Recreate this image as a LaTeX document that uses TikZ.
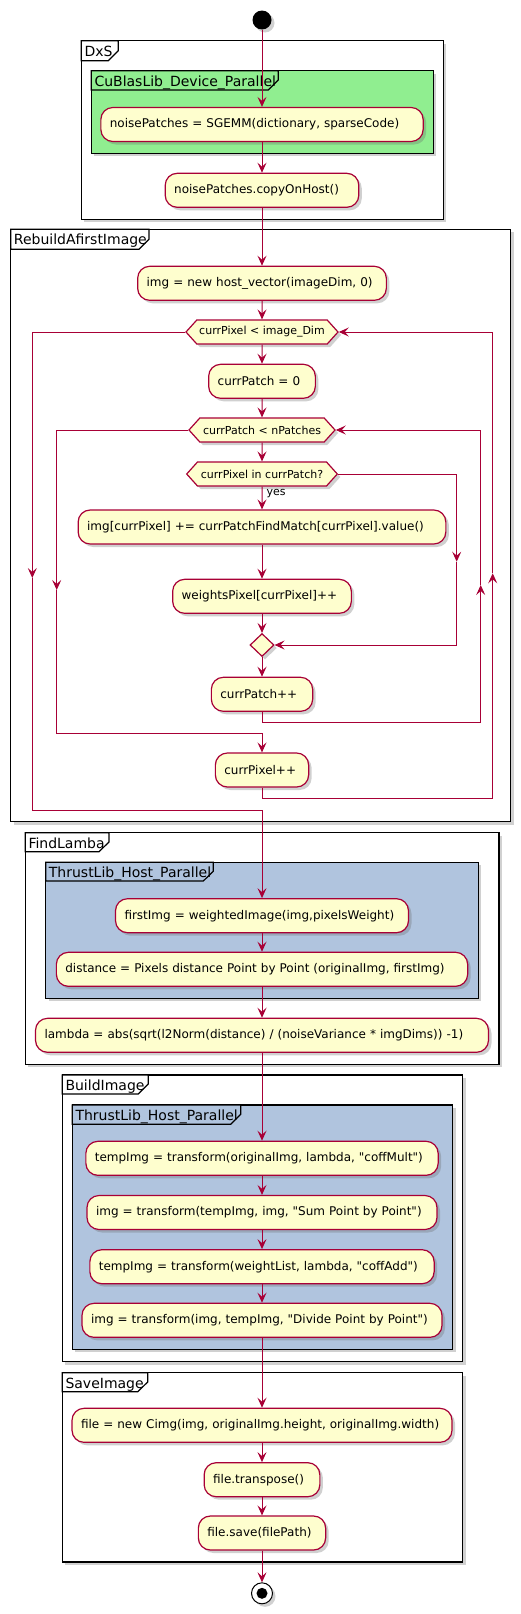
\documentclass[tikz,border=0pt]{standalone}
\usepackage{fontspec}
\setmainfont{DejaVu Sans}
\usetikzlibrary{arrows.meta,shapes.geometric,shapes.symbols,shadows}
\definecolor{umlred}{HTML}{A80036}
\definecolor{umlfill}{HTML}{FEFECE}
\definecolor{cublas}{HTML}{90EE90}
\definecolor{thrust}{HTML}{B0C4DE}
\begin{document}
\begin{tikzpicture}[x=1pt, y=-1pt,
    shadowed/.style={drop shadow={shadow xshift=3pt, shadow yshift=-3pt, opacity=0.3, fill=black!60}},
    actbox/.style={shape=rectangle, rounded corners=12pt, draw=umlred, fill=umlfill, line width=1.2pt, shadowed,
      minimum height=34pt, inner xsep=9pt, inner ysep=0pt, text width=#1, align=left, font=\fontsize{12}{14}\selectfont},
    testbox/.style={shape=signal, signal to=west and east, signal pointer angle=96, draw=umlred, fill=umlfill,
      line width=1.2pt, shadowed, minimum width=#1, minimum height=24pt, inner xsep=0pt, inner ysep=0pt,
      font=\fontsize{11}{13}\selectfont},
    mergebox/.style={shape=diamond, draw=umlred, fill=umlfill, line width=1.2pt, shadowed,
      minimum width=24pt, minimum height=23pt, inner sep=0pt},
    startdot/.style={shape=circle, fill=black, minimum size=19pt, inner sep=0pt, shadowed},
    stopdot/.style={shape=circle, draw=black, fill=white, line width=1pt, minimum size=21pt, inner sep=0pt, shadowed,
      path picture={\fill[black] (path picture bounding box.center) circle (5.5pt);}},
    grpbox/.style={draw=black, line width=1.5pt, fill=#1, shadowed},
    grptab/.style={draw=black, line width=1.2pt, fill=#1},
    grptitle/.style={anchor=base west, inner sep=0pt, font=\fontsize{14}{16}\selectfont},
    yeslabel/.style={anchor=west, inner sep=2pt, xshift=2pt, font=\fontsize{11}{13}\selectfont},
    flow/.style={draw=umlred, line width=1pt, -{Stealth[length=10pt, width=9pt, inset=4pt]}}]
  \useasboundingbox (0,0) rectangle (520,1614);

  \draw[grpbox=white] (81.3,40.7) rectangle (443.3,219.3);
  \draw[grptab=white] (81.3,40.7) -- (118.3,40.7) -- (118.3,50.7) -- (108.3,60.7) -- (81.3,60.7) -- cycle;
  \node[grptitle] (dxs) at (84.3,56) {DxS};
  \draw[grpbox=cublas] (91.3,70.7) rectangle (433.3,153.3);
  \draw[grptab=cublas] (91.3,70.7) -- (278.3,70.7) -- (278.3,80) -- (268.3,90) -- (91.3,90) -- cycle;
  \node[grptitle] (cublaslib) at (94.3,86) {CuBlasLib\_Device\_Parallel};

  \draw[grpbox=white] (10.7,229.3) rectangle (510.7,821.7);
  \draw[grptab=white] (10.7,229.3) -- (149,229.3) -- (149,239.3) -- (139,249.3) -- (10.7,249.3) -- cycle;
  \node[grptitle] (rebuild) at (13.7,244.6) {RebuildAfirstImage};

  \draw[grpbox=white] (25.3,832.7) rectangle (499,1064.3);
  \draw[grptab=white] (25.3,832.7) -- (109,832.7) -- (109,842) -- (99,851.7) -- (25.3,851.7) -- cycle;
  \node[grptitle] (findlamba) at (28.3,848) {FindLamba};
  \draw[grpbox=thrust] (45.7,862.3) rectangle (478.3,998.3);
  \draw[grptab=thrust] (45.7,862.3) -- (213.3,862.3) -- (213.3,871.3) -- (203.3,881) -- (45.7,881) -- cycle;
  \node[grptitle] (thrustA) at (48.7,877.6) {ThrustLib\_Host\_Parallel};

  \draw[grpbox=white] (62.3,1075) rectangle (462.7,1361.7);
  \draw[grptab=white] (62.3,1075) -- (148.3,1075) -- (148.3,1084) -- (138.3,1094) -- (62.3,1094) -- cycle;
  \node[grptitle] (buildimage) at (65.3,1090.3) {BuildImage};
  \draw[grpbox=thrust] (72.3,1105) rectangle (452.7,1349.3);
  \draw[grptab=thrust] (72.3,1105) -- (240.7,1105) -- (240.7,1114.3) -- (230.7,1124.3) -- (72.3,1124.3) -- cycle;
  \node[grptitle] (thrustB) at (75.3,1120.3) {ThrustLib\_Host\_Parallel};

  \draw[grpbox=white] (62.3,1372.7) rectangle (462.7,1562);
  \draw[grptab=white] (62.3,1372.7) -- (147.7,1372.7) -- (147.7,1382) -- (137.7,1391.7) -- (62.3,1391.7) -- cycle;
  \node[grptitle] (saveimage) at (65.3,1388) {SaveImage};

  \path
    (262,20) node[startdot] (start) {}
    (262,124.5) node[actbox=304.3pt] (n1) {noisePatches = SGEMM(dictionary, sparseCode)}
    (262,190.3) node[actbox=175.6pt] (n2) {noisePatches.copyOnHost()}
    (262,283.3) node[actbox=230.7pt] (n3) {img = new host\_vector(imageDim, 0)}
    (262,332) node[testbox=152pt] (w1) {currPixel < image\_Dim}
    (262,381.3) node[actbox=88.7pt] (n4) {currPatch = 0}
    (262,430) node[testbox=146pt] (w2) {currPatch < nPatches}
    (262,474) node[testbox=150.6pt] (if1) {currPixel in currPatch?}
    (262,527) node[actbox=349.7pt] (n5) {img[currPixel] += currPatchFindMatch[currPixel].value()}
    (262,596.3) node[actbox=160.7pt] (n6) {weightsPixel[currPixel]++}
    (262,645) node[mergebox] (m1) {}
    (262,694.3) node[actbox=83.3pt] (n7) {currPatch++}
    (262,770) node[actbox=75.3pt] (n8) {currPixel++}
    (262,915.7) node[actbox=275pt] (n9) {firstImg = weightedImage(img,pixelsWeight)}
    (262,969.3) node[actbox=393.3pt] (n10) {distance = Pixels distance Point by Point (originalImg, firstImg)}
    (262,1035.3) node[actbox=435pt] (n11) {lambda = abs(sqrt(l2Norm(distance) / (noiseVariance * imgDims)) -1)}
    (262,1158.3) node[actbox=334.3pt] (n12) {tempImg = transform(originalImg, lambda, \textquotedbl coffMult\textquotedbl)}
    (262,1212.5) node[actbox=332pt] (n13) {img = transform(tempImg, img, \textquotedbl Sum Point by Point\textquotedbl)}
    (262,1266.7) node[actbox=326.3pt] (n14) {tempImg = transform(weightList, lambda, \textquotedbl coffAdd\textquotedbl)}
    (262,1320.3) node[actbox=342pt] (n15) {img = transform(img, tempImg, \textquotedbl Divide Point by Point\textquotedbl)}
    (262,1425.3) node[actbox=362pt] (n16) {file = new Cimg(img, originalImg.height, originalImg.width)}
    (262,1479.7) node[actbox=97.7pt] (n17) {file.transpose()}
    (262,1533) node[actbox=109.3pt] (n18) {file.save(filePath)}
    (262,1593.3) node[stopdot] (stop) {};

  \coordinate (b1) at (456.7,561.7);
  \coordinate (r2) at (480.7,585);
  \coordinate (l2) at (56.7,590);
  \coordinate (j2) at (262,733.3);
  \coordinate (r1) at (492.7,573.3);
  \coordinate (l1) at (32.3,578);
  \coordinate (j1) at (262,810);

  \begin{scope}[flow]
    \draw (start) to (n1);
    \draw (n1) to (n2);
    \draw (n2) to (n3);
    \draw (n3) to (w1);
    \draw (w1) to (n4);
    \draw (n4) to (w2);
    \draw (w2) to (if1);
    \draw (if1) to node[yeslabel, pos=0.3] (yes) {yes} (n5);
    \draw (n5) to (n6);
    \draw (n6) to (m1);
    \draw (if1.east) -| (b1);
    \draw (b1) |- (m1.east);
    \draw (m1) to (n7);
    \draw (n7.south) -- ++(0,10.3) -| (r2);
    \draw (r2) |- (w2.east);
    \draw (w2.west) -| (l2);
    \draw (l2) |- (j2) -- (n8);
    \draw (n8.south) -- ++(0,10.6) -| (r1);
    \draw (r1) |- (w1.east);
    \draw (w1.west) -| (l1);
    \draw (l1) |- (j1) -- (n9);
    \draw (n9) to (n10);
    \draw (n10) to (n11);
    \draw (n11) to (n12);
    \draw (n12) to (n13);
    \draw (n13) to (n14);
    \draw (n14) to (n15);
    \draw (n15) to (n16);
    \draw (n16) to (n17);
    \draw (n17) to (n18);
    \draw (n18) to (stop);
  \end{scope}
\end{tikzpicture}
\end{document}
